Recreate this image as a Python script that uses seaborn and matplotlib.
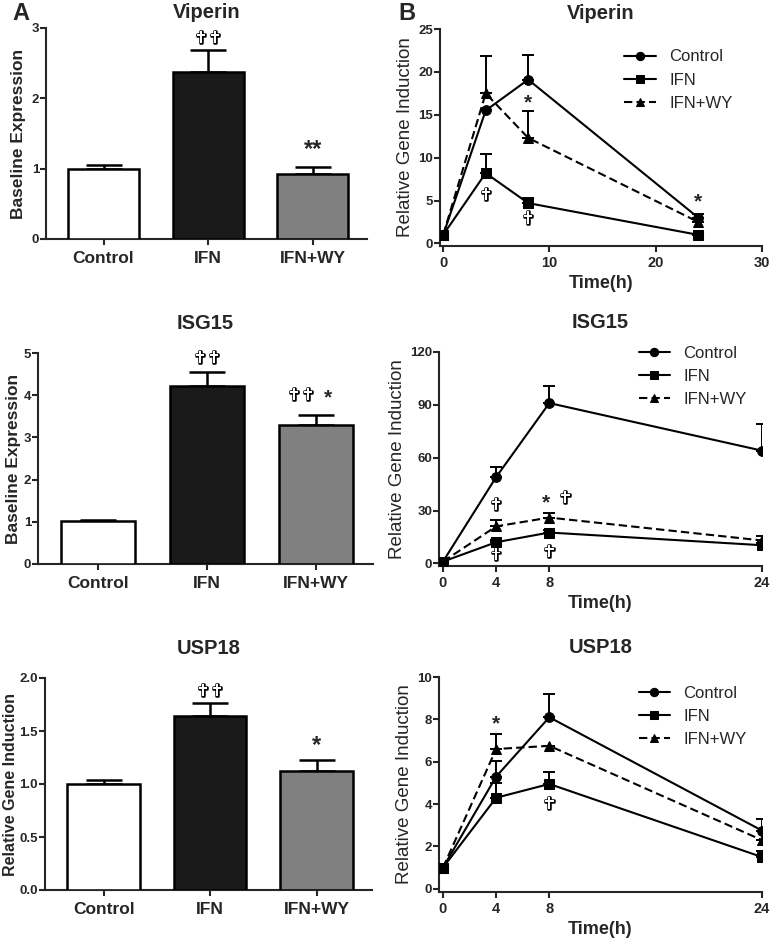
import numpy as np
import pandas as pd
import matplotlib
matplotlib.use("Agg")
import matplotlib.pyplot as plt
import matplotlib.patheffects as pe
import seaborn as sns

# Panneau A : expression de base (barres)
groupes = ["Control", "IFN", "IFN+WY"]
couleurs_barres = ["white", "#1a1a1a", "#808080"]

viperin_base = [1.00, 2.37, 0.93]
viperin_base_err = [0.05, 0.32, 0.10]
isg15_base = [1.02, 4.21, 3.30]
isg15_base_err = [0.03, 0.34, 0.22]
usp18_base = [1.00, 1.64, 1.12]
usp18_base_err = [0.04, 0.12, 0.11]

# Panneau B : cinetique (lignes)
temps = [0, 4, 8, 24]

viperin_ctrl = [1.0, 15.5, 19.1, 3.0]
viperin_ctrl_err = [0.0, 0.0, 2.9, 0.4]
viperin_ifn = [1.0, 8.2, 4.7, 1.0]
viperin_ifn_err = [0.0, 2.2, 0.6, 0.1]
viperin_wy = [1.0, 17.5, 12.3, 2.5]
viperin_wy_err = [0.0, 4.4, 3.1, 0.5]

isg15_ctrl = [1.0, 49.0, 91.0, 64.0]
isg15_ctrl_err = [0.0, 5.5, 9.5, 15.0]
isg15_ifn = [1.0, 12.0, 17.5, 10.3]
isg15_ifn_err = [0.0, 1.5, 1.5, 1.5]
isg15_wy = [1.0, 21.0, 26.0, 13.0]
isg15_wy_err = [0.0, 3.5, 2.8, 2.5]

usp18_ctrl = [1.0, 5.3, 8.1, 2.75]
usp18_ctrl_err = [0.0, 0.75, 1.1, 0.55]
usp18_ifn = [1.0, 4.3, 4.95, 1.5]
usp18_ifn_err = [0.0, 0.7, 0.55, 0.3]
usp18_wy = [1.0, 6.6, 6.75, 2.3]
usp18_wy_err = [0.0, 0.7, 0.0, 0.0]

DAG = "\u271d"

sns.set_style("ticks")
plt.rcParams["font.family"] = ["Liberation Sans", "DejaVu Sans"]
plt.rcParams["axes.linewidth"] = 1.5
plt.rcParams["xtick.major.width"] = 1.5
plt.rcParams["ytick.major.width"] = 1.5
plt.rcParams["xtick.major.size"] = 4
plt.rcParams["ytick.major.size"] = 4

W, H = 771, 939
fig = plt.figure(figsize=(W / 100, H / 100), dpi=100)


def axes_px(left, right, top, bottom):
    return fig.add_axes([left / W, 1 - bottom / H, (right - left) / W, (bottom - top) / H])


def panneau_barres(ax, vals, errs, titre, ylabel, yticks, ylab_size=12.5, fmt=None,
                   tpad=7, lpad=4):
    sns.barplot(x=groupes, y=vals, hue=groupes, palette=couleurs_barres,
                edgecolor="black", linewidth=1.8, width=0.68, legend=False,
                ax=ax, zorder=3)
    ax.errorbar(range(3), vals, yerr=[np.zeros(3), errs], fmt="none",
                ecolor="black", elinewidth=1.8, capsize=13, capthick=1.8, zorder=2)
    ax.set_xlim(-0.55, 2.52)
    ax.set_ylim(0, yticks[-1])
    ax.set_yticks(yticks)
    if fmt:
        ax.set_yticklabels([fmt.format(t) for t in yticks])
    sns.despine(ax=ax)
    ax.tick_params(axis="x", labelsize=12.5, pad=5)
    ax.tick_params(axis="y", labelsize=9.5, pad=1)
    for lab in ax.get_xticklabels() + ax.get_yticklabels():
        lab.set_fontweight("bold")
    ax.set_xlabel("")
    ax.set_ylabel(ylabel, fontsize=ylab_size, fontweight="bold", labelpad=lpad)
    ax.set_title(titre, fontsize=14.5, fontweight="bold", pad=tpad)


def panneau_lignes(ax, ctrl, ce, ifn, ie, wy, we, titre, xlim, xticks, ylim, yticks,
                   leg_anchor, tpad=7):
    df = pd.DataFrame({
        "temps": temps * 3,
        "valeur": ctrl + ifn + wy,
        "groupe": ["Control"] * 4 + ["IFN"] * 4 + ["IFN+WY"] * 4,
    })
    for y, e in [(ctrl, ce), (ifn, ie), (wy, we)]:
        ax.errorbar(temps, y, yerr=[np.zeros(4), e], fmt="none", ecolor="black",
                    elinewidth=1.4, capsize=4.5, capthick=1.4, zorder=2)
    sns.lineplot(data=df, x="temps", y="valeur", hue="groupe", style="groupe",
                 markers={"Control": "o", "IFN": "s", "IFN+WY": "^"},
                 dashes={"Control": "", "IFN": "", "IFN+WY": (4, 2)},
                 palette=["black"] * 3, markersize=7, linewidth=1.5,
                 markeredgecolor="black", ax=ax, zorder=3)
    handles, labels = ax.get_legend_handles_labels()
    for h in handles:
        h.set_markersize(6)
    ax.legend(handles, labels, loc="upper right", frameon=False, fontsize=12,
              handlelength=1.9, handletextpad=0.8, labelspacing=0.5,
              bbox_to_anchor=leg_anchor)
    ax.set_xlim(*xlim)
    ax.set_ylim(*ylim)
    ax.set_xticks(xticks)
    ax.set_yticks(yticks)
    ax.spines["bottom"].set_bounds(xlim[0], xticks[-1])
    ax.spines["left"].set_bounds(ylim[0], yticks[-1])
    sns.despine(ax=ax)
    ax.tick_params(axis="x", labelsize=10.5, pad=3)
    ax.tick_params(axis="y", labelsize=9.5, pad=1)
    for lab in ax.get_xticklabels() + ax.get_yticklabels():
        lab.set_fontweight("bold")
    ax.set_xlabel("Time(h)", fontsize=13, fontweight="bold", labelpad=4)
    ax.set_ylabel("Relative Gene Induction", fontsize=13.5, labelpad=3)
    ax.set_title(titre, fontsize=14.5, fontweight="bold", pad=tpad)


def croix(ax, x, y, n=1):
    ax.text(x, y, DAG * n, ha="center", va="center", fontsize=12, color="white",
            family=["DejaVu Sans"], zorder=5,
            path_effects=[pe.withStroke(linewidth=1.8, foreground="black")])


def etoile(ax, x, y, txt="*", size=15):
    ax.text(x, y, txt, ha="center", va="center", fontsize=size, fontweight="bold",
            zorder=5)


# Ligne 1 : Viperin
a1 = axes_px(46, 367, 28, 239)
panneau_barres(a1, viperin_base, viperin_base_err, "Viperin", "Baseline Expression", [0, 1, 2, 3])
croix(a1, 1, 2.86, 2)
etoile(a1, 2, 1.27, "**", 17)

b1 = axes_px(440, 762, 29, 246)
panneau_lignes(b1, viperin_ctrl, viperin_ctrl_err, viperin_ifn, viperin_ifn_err,
               viperin_wy, viperin_wy_err, "Viperin", (-0.3, 30), [0, 10, 20, 30],
               (-0.3, 25), [0, 5, 10, 15, 20, 25], (0.955, 0.975))
croix(b1, 4, 5.6)
croix(b1, 8, 2.9)
etoile(b1, 8, 16.4)
etoile(b1, 24, 4.8)

# Ligne 2 : ISG15
a2 = axes_px(38, 373, 353, 564)
panneau_barres(a2, isg15_base, isg15_base_err, "ISG15", "Baseline Expression",
               [0, 1, 2, 3, 4, 5], tpad=17, lpad=2)
croix(a2, 1, 4.88, 2)
croix(a2, 1.86, 4.0, 2)
etoile(a2, 2.11, 3.93)

b2 = axes_px(439, 762, 352, 566)
panneau_lignes(b2, isg15_ctrl, isg15_ctrl_err, isg15_ifn, isg15_ifn_err,
               isg15_wy, isg15_wy_err, "ISG15", (-0.3, 24), [0, 4, 8, 24],
               (-1.5, 120), [0, 30, 60, 90, 120], (1.0, 1.10), tpad=17)
croix(b2, 4, 33)
croix(b2, 4, 4.5)
croix(b2, 8, 6.5)
croix(b2, 9.2, 37)
etoile(b2, 7.75, 34.5)

# Ligne 3 : USP18
a3 = axes_px(45, 372, 678, 890)
panneau_barres(a3, usp18_base, usp18_base_err, "USP18", "Relative Gene Induction",
               [0, 0.5, 1.0, 1.5, 2.0], ylab_size=11.5, fmt="{:.1f}", tpad=17, lpad=1)
croix(a3, 1, 1.88, 2)
etoile(a3, 2, 1.36, "*", 17)

b3 = axes_px(439, 762, 677, 892)
panneau_lignes(b3, usp18_ctrl, usp18_ctrl_err, usp18_ifn, usp18_ifn_err,
               usp18_wy, usp18_wy_err, "USP18", (-0.3, 24), [0, 4, 8, 24],
               (-0.15, 10), [0, 2, 4, 6, 8, 10], (1.0, 1.03), tpad=17)
etoile(b3, 4, 7.8)
croix(b3, 8, 4.0)

fig.text(12 / W, 1 - 14 / H, "A", fontsize=17, fontweight="bold", va="center")
fig.text(398 / W, 1 - 14 / H, "B", fontsize=17, fontweight="bold", va="center")

fig.savefig("out.png", dpi=100)
